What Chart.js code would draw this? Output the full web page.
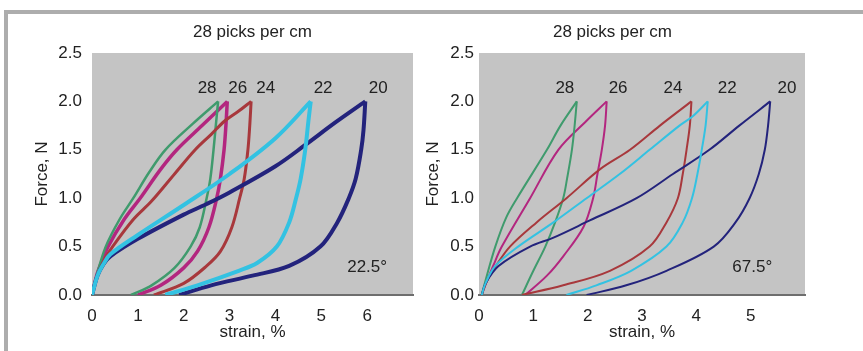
<!DOCTYPE html>
<html>
<head>
<meta charset="utf-8">
<script src="https://cdn.jsdelivr.net/npm/chart.js@4.4.1/dist/chart.umd.min.js"></script>
<style>
    html, body { margin: 0; padding: 0; background: #fff; }
    #wrap { position: relative; width: 863px; height: 351px; overflow: hidden; }
    #frame { position: absolute; left: 4px; top: 10px; right: 0; bottom: 0;
             border-top: 4px solid #adadad; border-left: 4px solid #adadad; }
    #leftBox { position: absolute; left: 0; top: 0; }
    #rightBox { position: absolute; left: 420px; top: 0; }
</style>
</head>
<body>
<div id="wrap">
    <div id="frame"></div>
    <canvas id="leftBox" width="430" height="351"></canvas>
    <canvas id="rightBox" width="413" height="351"></canvas>
</div>
<script>
// 曲線ラベル（左から右）
const curveNames = ['28', '26', '24', '22', '20'];
const peakLabelY = 2.14;
const angleLabelY = 0.29;

// 22.5° パネル: 負荷 / 除荷 (strain %, force N)
const l28Load = [[0,0],[0.1,0.2],[0.3,0.5],[0.6,0.78],[0.9,1.0],[1.25,1.27],[1.6,1.5],[2.2,1.77],[2.75,2.0]];
const l28Unload = [[2.75,2.0],[2.7,1.75],[2.65,1.5],[2.58,1.2],[2.5,1.0],[2.35,0.7],[2.15,0.5],[1.8,0.28],[1.3,0.1],[0.85,0]];
const l26Load = [[0,0],[0.1,0.2],[0.2,0.33],[0.35,0.5],[0.7,0.78],[1.05,1.0],[1.5,1.3],[1.85,1.5],[2.4,1.75],[2.95,2.0]];
const l26Unload = [[2.95,2.0],[2.92,1.75],[2.88,1.5],[2.8,1.2],[2.72,1.0],[2.55,0.7],[2.3,0.45],[2.0,0.28],[1.5,0.1],[1.0,0]];
const l24Load = [[0,0],[0.1,0.18],[0.25,0.35],[0.45,0.5],[0.9,0.78],[1.3,0.97],[1.8,1.25],[2.25,1.5],[2.6,1.66],[2.9,1.8],[3.2,1.9],[3.47,2.0]];
const l24Unload = [[3.47,2.0],[3.44,1.75],[3.4,1.5],[3.32,1.2],[3.22,1.0],[3.05,0.7],[2.8,0.45],[2.5,0.3],[2.0,0.12],[1.35,0]];
const l22Load = [[0,0],[0.12,0.2],[0.25,0.32],[0.4,0.42],[1,0.62],[2,0.93],[3,1.25],[4,1.62],[4.77,2.0]];
const l22Unload = [[4.77,2.0],[4.72,1.8],[4.65,1.5],[4.55,1.2],[4.45,1.0],[4.3,0.75],[4.03,0.5],[3.6,0.33],[3.2,0.25],[2.3,0.1],[1.6,0]];
const l20Load = [[0,0],[0.12,0.2],[0.25,0.32],[0.4,0.4],[1,0.58],[2,0.83],[2.5,0.94],[3,1.06],[4,1.33],[4.65,1.55],[5.3,1.78],[5.96,2.0]];
const l20Unload = [[5.96,2.0],[5.92,1.7],[5.87,1.5],[5.75,1.2],[5.6,1.0],[5.35,0.75],[4.98,0.5],[4.3,0.3],[3.5,0.2],[2.6,0.1],[1.9,0]];
const leftLabelX = [2.51, 3.18, 3.79, 5.04, 6.24];
const leftAngleX = 6.0;

// 67.5° パネル
const r28Load = [[0.05,0],[0.12,0.15],[0.3,0.5],[0.5,0.8],[0.7,1.0],[1.25,1.5],[1.5,1.75],[1.8,2.0]];
const r28Unload = [[1.8,2.0],[1.76,1.75],[1.71,1.5],[1.62,1.2],[1.55,1.0],[1.4,0.75],[1.22,0.5],[1.0,0.25],[0.79,0]];
const r26Load = [[0.05,0],[0.15,0.15],[0.26,0.3],[0.42,0.5],[0.94,1.0],[1.46,1.5],[1.98,1.8],[2.35,2.0]];
const r26Unload = [[2.35,2.0],[2.32,1.75],[2.26,1.5],[2.18,1.25],[2.1,1.0],[1.92,0.7],[1.55,0.4],[1.25,0.2],[0.85,0]];
const r24Load = [[0.05,0],[0.15,0.15],[0.31,0.3],[0.57,0.5],[1.06,0.75],[1.61,1.0],[2.23,1.3],[2.78,1.5],[3.33,1.75],[3.91,2.0]];
const r24Unload = [[3.91,2.0],[3.88,1.75],[3.82,1.5],[3.75,1.25],[3.66,1.0],[3.45,0.75],[3.14,0.5],[2.41,0.25],[1.55,0.1],[0.79,0]];
const r22Load = [[0.05,0],[0.12,0.12],[0.3,0.3],[0.72,0.5],[1.37,0.75],[1.98,1.0],[2.59,1.25],[3.14,1.5],[3.69,1.75],[3.94,1.85],[4.21,2.0]];
const r22Unload = [[4.21,2.0],[4.17,1.75],[4.1,1.5],[4.02,1.25],[3.92,1.0],[3.75,0.75],[3.45,0.5],[2.8,0.25],[2.16,0.1],[1.61,0]];
const r20Load = [[0.05,0],[0.12,0.12],[0.36,0.3],[0.94,0.5],[1.36,0.59],[2.04,0.77],[2.9,1.0],[3.57,1.25],[4.24,1.5],[4.79,1.75],[5.36,2.0]];
const r20Unload = [[5.36,2.0],[5.32,1.75],[5.26,1.5],[5.15,1.25],[4.98,1.0],[4.72,0.75],[4.32,0.5],[3.45,0.25],[2.71,0.1],[1.98,0]];
const rightLabelX = [1.58, 2.56, 3.57, 4.57, 5.67];
const rightAngleX = 5.03;

const colors = {
    c28: '#3f9b6d',
    c26: '#b3267f',
    c24: '#a8383c',
    c22: '#33c2e2',
    c20: '#23237c'
};
const textColor = '#222';
const fontFamily = '"Liberation Sans", Arial, sans-serif';

document.addEventListener('DOMContentLoaded', function() {
    // プロット領域の灰色背景
    const plotBg = {
        id: 'plotBg',
        beforeDraw(chart) {
            const { ctx, chartArea: a } = chart;
            ctx.save();
            ctx.fillStyle = '#c4c4c4';
            ctx.fillRect(a.left, a.top, a.right - a.left, a.bottom - a.top);
            ctx.restore();
        }
    };

    // 曲線番号と角度の文字
    const textMarks = {
        id: 'textMarks',
        afterDatasetsDraw(chart, args, opts) {
            const { ctx, scales: { x, y } } = chart;
            ctx.save();
            ctx.font = '17px ' + fontFamily;
            ctx.fillStyle = textColor;
            ctx.textAlign = 'center';
            ctx.textBaseline = 'middle';
            opts.xs.forEach((v, i) => {
                ctx.fillText(curveNames[i], x.getPixelForValue(v), y.getPixelForValue(peakLabelY));
            });
            ctx.fillText(opts.angle, x.getPixelForValue(opts.angleX), y.getPixelForValue(angleLabelY));
            ctx.restore();
        }
    };

    function toPts(arr) {
        return arr.map(p => ({ x: p[0], y: p[1] }));
    }

    function loop(load, unload, color, width) {
        const base = { borderColor: color, borderWidth: width, showLine: true, pointRadius: 0, tension: 0.35, fill: false };
        return [
            Object.assign({ data: toPts(load) }, base),
            Object.assign({ data: toPts(unload) }, base)
        ];
    }

    function createPanel(canvasId, datasets, p) {
        const ctx = document.getElementById(canvasId);
        new Chart(ctx, {
            type: 'scatter',
            data: { datasets: datasets },
            plugins: [plotBg, textMarks],
            options: {
                responsive: false,
                animation: false,
                layout: { padding: { left: 0, right: p.padRight, top: 0, bottom: 0 } },
                plugins: {
                    legend: { display: false },
                    tooltip: { enabled: false },
                    title: {
                        display: true,
                        text: '28 picks per cm',
                        fullSize: p.titleFull,
                        color: textColor,
                        font: { family: fontFamily, size: 17, weight: 'normal' },
                        padding: { top: 22, bottom: 10.6 }
                    },
                    textMarks: { xs: p.labelX, angle: p.angle, angleX: p.angleX }
                },
                scales: {
                    x: {
                        type: 'linear',
                        min: 0,
                        max: p.xMax,
                        afterFit: s => { s.height = 56; },
                        border: { display: true, color: '#6e6e6e', width: 2 },
                        grid: { display: false, drawTicks: false },
                        ticks: {
                            stepSize: 1,
                            padding: 11,
                            color: textColor,
                            font: { family: fontFamily, size: 17 },
                            callback: v => (v < p.xMax ? v : '')
                        },
                        title: {
                            display: true,
                            text: 'strain, %',
                            color: textColor,
                            font: { family: fontFamily, size: 17 },
                            padding: { top: 0, bottom: 8 }
                        }
                    },
                    y: {
                        min: 0,
                        max: 2.5,
                        afterFit: s => { s.width = p.yWidth; },
                        border: { display: false },
                        grid: { display: false, drawTicks: false },
                        ticks: {
                            stepSize: 0.5,
                            padding: p.yTickPad,
                            color: textColor,
                            font: { family: fontFamily, size: 17 },
                            callback: v => v.toFixed(1)
                        },
                        title: {
                            display: true,
                            text: 'Force, N',
                            color: textColor,
                            font: { family: fontFamily, size: 17 },
                            padding: { top: p.yTitlePad, bottom: 0 }
                        }
                    }
                }
            }
        });
    }

    const leftSets = [].concat(
        loop(l22Load, l22Unload, colors.c22, 4),
        loop(l20Load, l20Unload, colors.c20, 4),
        loop(l24Load, l24Unload, colors.c24, 3),
        loop(l28Load, l28Unload, colors.c28, 2.5),
        loop(l26Load, l26Unload, colors.c26, 3.5)
    );
    const rightSets = [].concat(
        loop(r22Load, r22Unload, colors.c22, 2),
        loop(r20Load, r20Unload, colors.c20, 2),
        loop(r24Load, r24Unload, colors.c24, 2),
        loop(r28Load, r28Unload, colors.c28, 2),
        loop(r26Load, r26Unload, colors.c26, 2)
    );

    createPanel('leftBox', leftSets, {
        xMax: 7, padRight: 17, titleFull: false, yWidth: 92, yTickPad: 10, yTitlePad: 31.8,
        labelX: leftLabelX, angle: '22.5°', angleX: leftAngleX
    });
    createPanel('rightBox', rightSets, {
        xMax: 6, padRight: 28, titleFull: true, yWidth: 59, yTickPad: 5, yTitlePad: 2.8,
        labelX: rightLabelX, angle: '67.5°', angleX: rightAngleX
    });
});
</script>
</body>
</html>
